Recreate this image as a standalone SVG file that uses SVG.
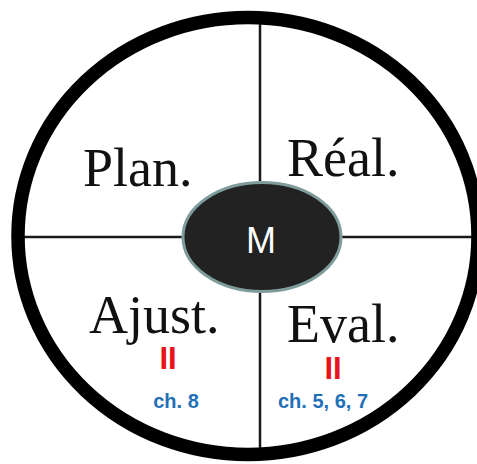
<svg xmlns="http://www.w3.org/2000/svg" width="477" height="464" viewBox="0 0 477 464">
<style>
.lbl{font-family:"Liberation Serif","Times New Roman",serif;font-size:54px;fill:#111}
.par{font-family:"Liberation Sans",Arial,sans-serif;font-weight:bold;font-size:31px;fill:#e8141c;text-anchor:middle}
.ch{font-family:"Liberation Sans",Arial,sans-serif;font-weight:bold;font-size:20px;fill:#1f6fb8;text-anchor:middle}
.ln{stroke:#1a1a1a;stroke-width:2.5;fill:none}
</style>
<rect width="477" height="464" fill="#ffffff"/>
<g id="connectors">
<line class="ln" x1="260" y1="20" x2="260" y2="452"/>
<line class="ln" x1="20" y1="237" x2="476" y2="237"/>
</g>
<g id="ring">
<ellipse cx="248" cy="236" rx="230" ry="218.5" fill="none" stroke="#000" stroke-width="13.5"/>
</g>
<g id="plan"><text class="lbl" x="83" y="186" font-size="56">Plan.</text></g>
<g id="real"><text class="lbl" x="287" y="176">Réal.</text></g>
<g id="ajust">
<text class="lbl" x="89" y="333">Ajust.</text>
<text class="par" x="168" y="369">II</text>
<text class="ch" x="176" y="408">ch. 8</text>
</g>
<g id="eval">
<text class="lbl" x="287" y="342">Eval.</text>
<text class="par" x="333" y="379">II</text>
<text class="ch" x="323" y="408">ch. 5, 6, 7</text>
</g>
<g id="m">
<ellipse cx="262" cy="237" rx="79" ry="54.5" fill="#222" stroke="#7f9c9c" stroke-width="3"/>
<text x="261" y="253" font-family="'Liberation Sans',Arial,sans-serif" font-size="36" fill="#fff" text-anchor="middle">M</text>
</g>
</svg>
